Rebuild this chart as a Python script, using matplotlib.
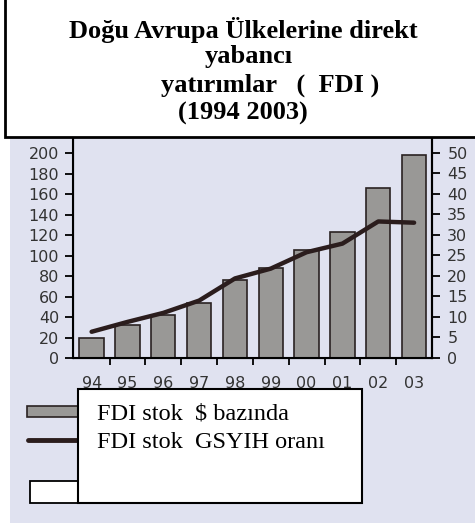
import numpy as np
import matplotlib
matplotlib.use('Agg')
import matplotlib.pyplot as plt
from matplotlib.patches import Rectangle
from matplotlib.lines import Line2D

years = ['94', '95', '96', '97', '98', '99', '00', '01', '02', '03']
fdi_stock = [20, 32, 42, 54, 76, 88, 105, 123, 166, 198]
fdi_gdp = [6.4, 8.8, 11.0, 14.0, 19.4, 21.8, 25.8, 27.9, 33.3, 33.0]
title_lines = ['Doğu Avrupa Ülkelerine direkt', 'yabancı', 'yatırımlar   (  FDI )', '(1994 2003)']
legend_labels = ['FDI stok  $ bazında', 'FDI stok  GSYIH oranı']

W, H = 475, 525
bg = '#e0e2f0'
bar_col = '#999896'
line_col = '#2b1d1d'

fig = plt.figure(figsize=(W / 100, H / 100), dpi=100)
fig.patch.set_facecolor('white')

def fx(px):
    return px / W

def fy(py):
    return 1 - py / H

# lavender background
fig.patches.append(Rectangle((fx(10), fy(523)), 1 - fx(10), fy(2) - fy(523),
                             transform=fig.transFigure, facecolor=bg, edgecolor='none', zorder=-5))

ax = fig.add_axes([fx(73), fy(358), fx(432) - fx(73), fy(137) - fy(358)])
ax.set_facecolor('none')
x = np.arange(len(years))
ax.bar(x, fdi_stock, width=0.68, color=bar_col, edgecolor='#2a2222', linewidth=1.2, zorder=2)
ax.set_xlim(-0.52, len(years) - 0.5)
ax.set_ylim(0, 215.7)
ax.set_yticks(np.arange(0, 201, 20))
ax.set_xticks(x)
ax.set_xticklabels(years)
ax.set_xticks(np.arange(0.5, 9, 1), minor=True)
ax.tick_params(axis='x', which='major', length=0, pad=13, labelsize=11.5, labelcolor='#333333')
ax.tick_params(axis='x', which='minor', length=5, width=1.3, direction='out')
ax.tick_params(axis='y', length=6, width=1.3, direction='out', labelsize=11.5, pad=4, labelcolor='#333333')
ax.spines['top'].set_visible(False)
for s in ['left', 'right', 'bottom']:
    ax.spines[s].set_linewidth(1.5)

ax2 = ax.twinx()
ax2.plot(x, fdi_gdp, color=line_col, linewidth=3.2, solid_capstyle='round', zorder=3)
ax2.set_ylim(0, 53.9)
ax2.set_yticks(np.arange(0, 51, 5))
ax2.tick_params(axis='y', length=6, width=1.3, direction='out', labelsize=11.5, pad=5, labelcolor='#333333')
ax2.spines['top'].set_visible(False)
ax2.spines['right'].set_linewidth(1.5)

for a in (ax, ax2):
    for t in a.get_yticklabels() + a.get_xticklabels():
        t.set_family('DejaVu Sans')

# title box
fig.patches.append(Rectangle((fx(5), fy(137)), 1 - fx(5) + 0.01, fy(0) - fy(137) + 0.01,
                             transform=fig.transFigure, facecolor='white', edgecolor='black',
                             linewidth=2, zorder=5))
title_y = [30, 57, 85, 113]
title_x = [243, 249, 270, 243]
for t, tx, ty in zip(title_lines, title_x, title_y):
    fig.text(fx(tx), fy(ty), t, ha='center', va='center', fontsize=19, fontweight='bold',
             family='Liberation Serif', zorder=6)

# legend
fig.patches.append(Rectangle((fx(27), fy(417)), fx(78) - fx(27), fy(406) - fy(417),
                             transform=fig.transFigure, facecolor=bar_col, edgecolor='#2a2222',
                             linewidth=1.2, zorder=5))
fig.lines.append(Line2D([fx(28), fx(80)], [fy(440), fy(440)], transform=fig.transFigure,
                        color=line_col, linewidth=3.5, solid_capstyle='round', zorder=5))
fig.patches.append(Rectangle((fx(30), fy(503)), fx(78) - fx(30), fy(481) - fy(503),
                             transform=fig.transFigure, facecolor='white', edgecolor='black',
                             linewidth=1.3, zorder=5))
fig.patches.append(Rectangle((fx(78), fy(503)), fx(362) - fx(78), fy(389) - fy(503),
                             transform=fig.transFigure, facecolor='white', edgecolor='black',
                             linewidth=1.5, zorder=6))
for lab, ty in zip(legend_labels, [414, 443]):
    fig.text(fx(97), fy(ty), lab, ha='left', va='center', fontsize=17.5, family='Liberation Serif', zorder=7)

fig.savefig('out.png', dpi=100)
